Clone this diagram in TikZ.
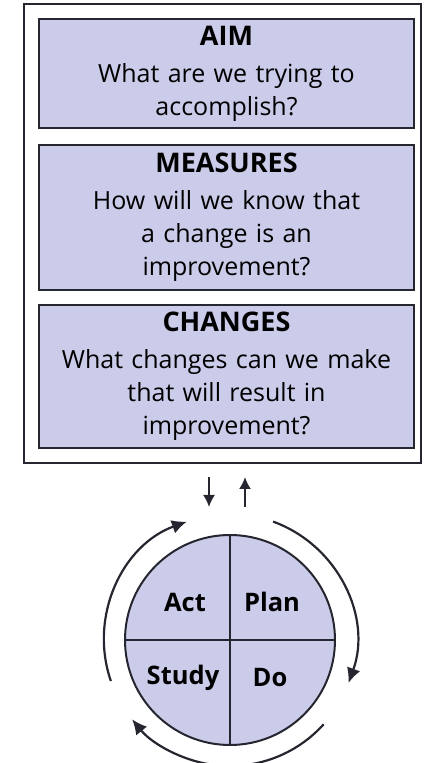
\documentclass[tikz,border=0pt]{standalone}
\usepackage{fontspec}
\setmainfont{Open Sans}
\usetikzlibrary{arrows.meta}
\definecolor{lavfill}{RGB}{203,203,234}
\definecolor{darkline}{RGB}{38,38,48}

\begin{document}
\begin{tikzpicture}[x=1pt, y=1pt,
        >={Latex[length=15pt, width=14pt]},
        qbox/.style={draw=darkline, line width=2.6pt, fill=lavfill,
            minimum width=375pt, text width=372pt, align=center,
            inner sep=0pt, font=\fontsize{25}{33}\selectfont},
        cyclearrow/.style={draw=darkline, line width=2.2pt, ->},
        quad/.style={font=\bfseries\fontsize{25.5}{28}\selectfont, text=black}]

        % Fixes the size of the page
        \useasboundingbox (0, 0) rectangle (424, 763);

        % Frame round the three questions
        \draw[darkline, line width=1.6pt] (24, 300) rectangle (421, 759);

        % The three questions, top to bottom
        \node[qbox, minimum height=109pt] (aim) at (226.5, 689.5)
            {{\bfseries\fontsize{27}{37}\selectfont AIM}\\[4pt]
            What are we trying to\\ accomplish?};
        \node[qbox, minimum height=145pt] (measures) at (226.5, 545.5)
            {{\bfseries\fontsize{27}{37}\selectfont MEASURES}\\[4pt]
            How will we know that\\ a change is an\\ improvement?};
        \node[qbox, minimum height=143pt] (changes) at (226.5, 386.5)
            {{\bfseries\fontsize{27}{37}\selectfont CHANGES}\\[4pt]
            What changes can we make\\ that will result in\\ improvement?};

        % Short arrows between the frame and the cycle
        \coordinate (downtop) at (209, 286);
        \coordinate (downtip) at (209, 256);
        \coordinate (uptop) at (245, 286);
        \coordinate (upfoot) at (245, 256);
        \draw[darkline, line width=1.8pt, -{Latex[length=12pt, width=12pt]}]
            (downtop) -- (downtip);
        \draw[darkline, line width=1.8pt, -{Latex[length=12pt, width=12pt]}]
            (upfoot) -- (uptop);

        % The cycle and its four quarters
        \node[circle, draw=darkline, line width=2pt, fill=lavfill,
            minimum size=210pt, inner sep=0pt] (cycle) at (230, 123) {};
        \draw[darkline, line width=2pt] (cycle.north) -- (cycle.south);
        \draw[darkline, line width=2pt] (cycle.west) -- (cycle.east);

        \node[quad] (act) at (185, 161) {Act};
        \node[quad] (plan) at (272, 161) {Plan};
        \node[quad] (study) at (183, 85) {Study};
        \node[quad] (do) at (270, 85) {Do};

        % Clockwise arrows round the cycle
        \draw[cyclearrow] ([shift={(199:126)}]cycle.center)
            arc[start angle=199, end angle=110, radius=126];
        \draw[cyclearrow] ([shift={(70:126)}]cycle.center)
            arc[start angle=70, end angle=-20, radius=126];
        \draw[cyclearrow] ([shift={(-42:126)}]cycle.center)
            arc[start angle=-42, end angle=-141, radius=126];

\end{tikzpicture}
\end{document}
